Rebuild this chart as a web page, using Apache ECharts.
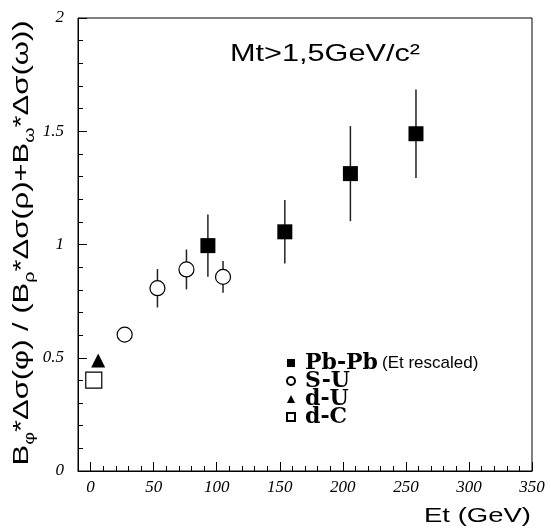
<!DOCTYPE html>
<html>
<head>
<meta charset="utf-8">
<script src="https://cdn.jsdelivr.net/npm/echarts@6/dist/echarts.min.js"></script>
<style>html,body{margin:0;padding:0;background:#fff}#c{width:548px;height:529px}</style>
</head>
<body>
<div id="c"></div>
<script>
// ---- data ----
const pbEt = [93, 154, 206, 258];
const pbRatio = [0.995, 1.056, 1.313, 1.489];
const pbErr = [0.137, 0.14, 0.21, 0.195];

const suEt = [27, 53, 76, 105];
const suRatio = [0.602, 0.807, 0.89, 0.857];
const suErr = [0, 0.085, 0.088, 0.07];

const duEt = [6];
const duRatio = [0.488];

const dcEt = [2.5];
const dcRatio = [0.401];

const xTicks = [0, 50, 100, 150, 200, 250, 300, 350];
const xMinorTicks = [0, 10, 20, 30, 40, 50, 60, 70, 80, 90, 100, 110, 120, 130, 140, 150, 160, 170, 180, 190, 200, 210, 220, 230, 240, 250, 260, 270, 280, 290, 300, 310, 320, 330, 340, 350];

const legendNames = ['Pb-Pb', 'S-U', 'd-U', 'd-C'];
const legendNote = '(Et rescaled)';
const xTitle = 'Et (GeV)';
const cutLabel = 'Mt>1,5GeV/c²';

// ---- helpers ----
const SANS = '"Liberation Sans", Arial, sans-serif';
const SERIF = '"Liberation Serif", "Times New Roman", serif';
const ctx = document.createElement('canvas').getContext('2d');
function measure(parts) {
  let w = 0;
  for (const [t, f] of parts) { ctx.font = f; w += ctx.measureText(t).width; }
  return w;
}
function pts(xs, ys) { return xs.map((x, i) => [x, ys[i]]); }
function errs(xs, ys, es) { return xs.map((x, i) => [x, ys[i] - es[i], ys[i] + es[i]]); }

// y title pieces
const yTitleRich = 'B{sub|φ}*Δσ(φ) / (B{sub|ρ}*Δσ(ρ)+B{sub|ω}*Δσ(ω))';
const yMain = 'B*Δσ(φ) / (B*Δσ(ρ)+B*Δσ(ω))';
const yFont = '22px ' + SANS, ySubFont = '14px ' + SANS;
const yW = measure([[yMain, yFont], ['φρω', ySubFont]]);
const yScale = 445 / yW;

const cutFont = '24px ' + SANS;
const cutScale = 190 / measure([[cutLabel, cutFont]]);
const xtFont = '21px ' + SANS;
const xtScale = 107 / measure([[xTitle, xtFont]]);

const errSeries = (name, xs, ys, es) => ({
  type: 'custom',
  name: name + ' err',
  z: 1,
  silent: true,
  encode: { x: 0, y: [1, 2] },
  data: errs(xs, ys, es),
  renderItem: (params, api) => {
    const x = api.value(0), lo = api.value(1), hi = api.value(2);
    const p1 = api.coord([x, lo]), p2 = api.coord([x, hi]);
    return { type: 'line', shape: { x1: p1[0], y1: p1[1], x2: p2[0], y2: p2[1] },
      style: { stroke: '#222', lineWidth: 1.5 } };
  }
});

const chart = echarts.init(document.getElementById('c'), null, { renderer: 'canvas' });
chart.setOption({
  animation: false,
  backgroundColor: '#fff',
  grid: { left: 78, right: 16, top: 18, bottom: 58, show: true, borderColor: '#000', borderWidth: 1, containLabel: false },
  xAxis: [{
    type: 'value', min: -10, max: 350, position: 'bottom',
    axisLine: { show: true, onZero: false, lineStyle: { color: '#000', width: 1 } },
    axisTick: { show: true, inside: true, length: 9, customValues: xTicks, lineStyle: { color: '#000' } },
    axisLabel: { customValues: xTicks, margin: 8, fontFamily: SERIF, fontStyle: 'italic', fontSize: 17, color: '#000' },
    splitLine: { show: false }
  }, {
    type: 'value', min: -10, max: 350, position: 'bottom',
    axisLine: { show: false },
    axisTick: { show: true, inside: true, length: 5, customValues: xMinorTicks, lineStyle: { color: '#000' } },
    axisLabel: { show: false },
    splitLine: { show: false }
  }],
  yAxis: {
    type: 'value', min: 0, max: 2, interval: 0.5,
    axisLine: { show: true, onZero: false, lineStyle: { color: '#000', width: 1 } },
    axisTick: { show: true, inside: true, length: 9, lineStyle: { color: '#000' } },
    minorTick: { show: true, splitNumber: 5, length: 5, lineStyle: { color: '#000' } },
    axisLabel: { margin: 14, fontFamily: SERIF, fontStyle: 'italic', fontSize: 17, color: '#000' },
    splitLine: { show: false },
    minorSplitLine: { show: false }
  },
  legend: {
    orient: 'vertical', left: 286, top: 352, padding: 0, itemGap: -4,
    itemWidth: 8, itemHeight: 8,
    data: legendNames,
    formatter: n => n === legendNames[0] ? '{b|' + n + '}{s|' + legendNote + '}' : '{b|' + n + '}',
    textStyle: {
      lineHeight: 18,
      rich: {
        b: { fontFamily: '"DejaVu Serif", serif', fontWeight: 'bold', fontSize: 22, color: '#000', lineHeight: 18, padding: [0, 0, 0, 5] },
        s: { fontFamily: SANS, fontSize: 17, color: '#000', lineHeight: 18, padding: [0, 0, 0, 4] }
      }
    }
  },
  series: [
    errSeries('Pb-Pb', pbEt, pbRatio, pbErr),
    errSeries('S-U', suEt, suRatio, suErr),
    { type: 'scatter', name: 'Pb-Pb', z: 3, symbol: 'rect', symbolSize: 15, data: pts(pbEt, pbRatio),
      itemStyle: { color: '#000', opacity: 1 } },
    { type: 'scatter', name: 'S-U', z: 3, symbol: 'circle', symbolSize: 15, data: pts(suEt, suRatio),
      itemStyle: { color: '#fff', borderColor: '#000', borderWidth: 1.2, opacity: 1 } },
    { type: 'scatter', name: 'd-U', z: 3, symbol: 'triangle', symbolSize: 14, data: pts(duEt, duRatio),
      itemStyle: { color: '#000', opacity: 1 } },
    { type: 'scatter', name: 'd-C', z: 3, symbol: 'rect', symbolSize: 16, data: pts(dcEt, dcRatio),
      itemStyle: { color: '#fff', borderColor: '#000', borderWidth: 1.2, opacity: 1 } }
  ],
  graphic: [
    { type: 'text', x: 22, y: 243, rotation: Math.PI / 2, scaleX: yScale, scaleY: 1,
      style: { text: yTitleRich, font: yFont, fill: '#000', align: 'center', verticalAlign: 'middle', lineHeight: 30,
        rich: { sub: { font: ySubFont, fontSize: 14, fontFamily: SANS, fill: '#000', verticalAlign: 'bottom' } } } },
    { type: 'text', x: 230, y: 54, scaleX: cutScale,
      style: { text: cutLabel, font: cutFont, fill: '#000', align: 'left', verticalAlign: 'middle' } },
    { type: 'text', x: 531, y: 516, scaleX: xtScale,
      style: { text: xTitle, font: xtFont, fill: '#000', align: 'right', verticalAlign: 'middle' } }
  ]
});
</script>
</body>
</html>
